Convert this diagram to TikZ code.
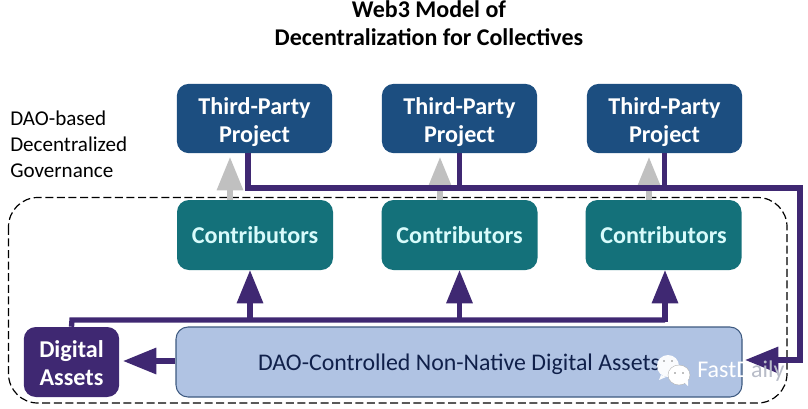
\documentclass[tikz,border=0pt]{standalone}
\usepackage{fontspec}
\setmainfont{Carlito}
\usetikzlibrary{arrows.meta,calc}
\definecolor{projc}{HTML}{1C4E80}
\definecolor{contc}{HTML}{14717A}
\definecolor{purp}{HTML}{3F2872}
\definecolor{daoc}{HTML}{B0C3E3}
\definecolor{daoe}{HTML}{3E5A80}
\definecolor{cyant}{HTML}{D8FBFB}
\definecolor{inkt}{HTML}{10204A}
\definecolor{greya}{HTML}{C0C0C0}
\definecolor{wmgrey}{HTML}{B8BCC8}
\tikzset{
  x=0.75pt,y=-0.75pt,
  boxbase/.style={rounded corners=9pt,align=center,inner sep=0pt,font=\fontsize{18.1}{21}\selectfont\bfseries},
  project/.style={boxbase,fill=projc,text=white,minimum width=116.5pt,minimum height=52pt,text height=39.5pt},
  contrib/.style={boxbase,fill=contc,text=cyant,minimum width=117pt,minimum height=52.5pt,text height=13pt},
  digital/.style={boxbase,fill=purp,text=white,minimum width=71.5pt,minimum height=52.5pt,text height=35pt},
  daobox/.style={rounded corners=9pt,draw=daoe,line width=0.8pt,fill=daoc,text=inkt,inner sep=0pt,minimum width=424.5pt,minimum height=52.5pt,text height=16.5pt,font=\fontsize{17.9}{21}\selectfont},
  flow/.style={draw=purp,line width=4pt,line join=miter},
  flowhead/.style={flow,-{Triangle[length=25pt,width=19pt,fill=purp]}},
  greyhead/.style={draw=greya,line width=4pt,-{Triangle[length=25pt,width=19pt,fill=greya]}},
  plain/.style={inner sep=0pt,align=left,font=\fontsize{15.8}{19.2}\selectfont},
  titletext/.style={inner sep=0pt,align=center,font=\fontsize{18}{21}\selectfont\bfseries}
}
\begin{document}
\begin{tikzpicture}
\useasboundingbox (0,0) rectangle (808,408);
\fill[white] (0,0) rectangle (808,408);
\node[titletext] (title) at (429,23) {Web3 Model of\\Decentralization for Collectives};
\node[plain,anchor=north west] (gov) at (10,111) {DAO-based\\Decentralized\\Governance};
\draw[dash pattern=on 6pt off 2.7pt,line width=0.9pt,rounded corners=22pt] (8.5,197.5) rectangle (787,403);
\node[project] (p1) at (254.5,118.5) {Third-Party\\Project};
\node[project] (p2) at (459.5,118.5) {Third-Party\\Project};
\node[project] (p3) at (664.5,118.5) {Third-Party\\Project};
\node[contrib] (c1) at (255,235) {Contributors};
\node[contrib] (c2) at (459.5,235) {Contributors};
\node[contrib] (c3) at (663.5,235) {Contributors};
\node[digital] (d) at (71.5,362) {Digital\\Assets};
\node[daobox] (a) at (459,362) {DAO-Controlled Non-Native Digital Assets};
% grey arrows
\draw[greyhead] (c1.north -| 230,0) -- (230,157);
\draw[greyhead] (c2.north -| 440,0) -- (440,157);
\draw[greyhead] (c3.north -| 649,0) -- (649,157);
% upper flow
\coordinate (ur) at (800,188);
\coordinate (ul) at (248,188);
\coordinate (ue) at (745,360);
\draw[flow] (p1.south -| ul) -- (ul) -- (ur) -- (800,360) -- (778,360);
\draw[flowhead] (778,360) -- (ue);
\draw[flow] (p2.south) -- (p2.south |- ur);
\draw[flow] (p3.south) -- (p3.south |- ur);
% lower flow
\coordinate (ll) at (72,320);
\coordinate (lr) at (665,320);
\draw[flow] (d.north) -- (ll) -- (lr);
\draw[flowhead] (250,320) -- (250,270);
\draw[flowhead] (459.5,320) -- (459.5,270);
\draw[flowhead] (665,322) -- (665,270);
\draw[flowhead] (a.west |- 0,361) -- (123,361);
% watermark
\fill[white,opacity=0.95] (668,366) ellipse (11 and 11);
\fill[white,opacity=0.95] (661,375) -- (659,380) -- (666,377) -- cycle;
\fill[white,draw=gray!60,line width=0.3pt] (679,375) ellipse (11 and 10);
\fill[white] (684,382) -- (688,386) -- (688,380) -- cycle;
\fill[gray] (675,373) circle (0.9) (683,373) circle (0.9) (664,361) circle (0.8) (672,361) circle (0.8);
\node[inner sep=0pt,anchor=west,text=white,font=\fontsize{18}{20}\selectfont] (wm) at (697,371) {FastD\textcolor{wmgrey}{aily}};
\end{tikzpicture}
\end{document}
